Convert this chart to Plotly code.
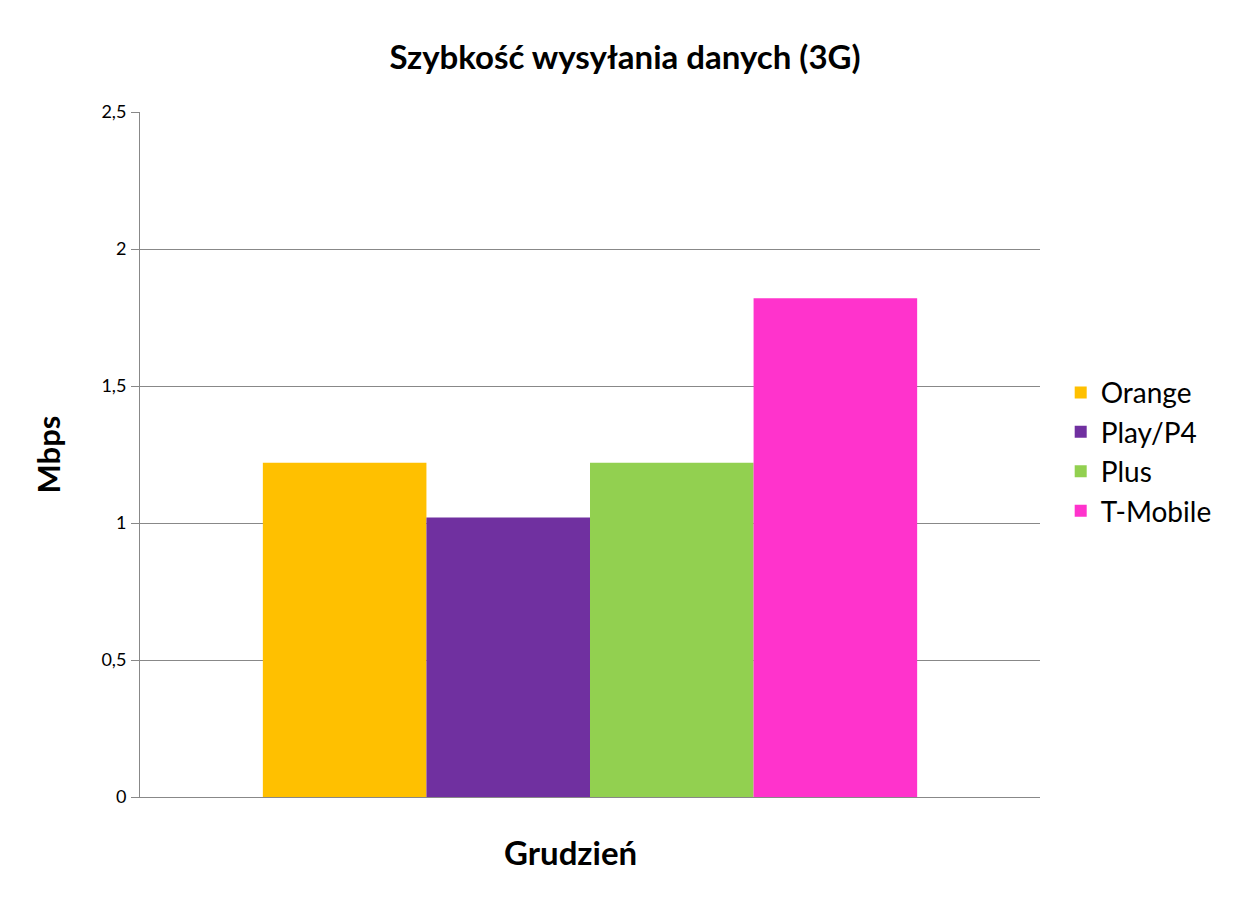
import plotly.graph_objects as go

categories = ["Grudzień"]
operators = ["Orange", "Play/P4", "Plus", "T-Mobile"]
values = [1.22, 1.02, 1.22, 1.82]
colors = ["#FFC000", "#7030A0", "#92D050", "#FF33CC"]

FONT = "Lato, Carlito, 'Liberation Sans', sans-serif"

fig = go.Figure()
for name, v, c in zip(operators, values, colors):
    fig.add_trace(go.Bar(name=name, x=categories, y=[v], marker=dict(color=c, line=dict(width=0))))

fig.update_layout(
    width=1234, height=899,
    margin=dict(l=132, r=202, t=104, b=110),
    paper_bgcolor="white", plot_bgcolor="white",
    separators=",.",
    barmode="group", bargap=0.273, bargroupgap=0,
    font=dict(family=FONT, color="black"),
    title=dict(text="<b>Szybkość wysyłania danych (3G)</b>", x=0.5, xanchor="center",
               y=0.9455, yanchor="middle", font=dict(size=33, color="black")),
    legend=dict(x=1.023, xanchor="left", y=0.504, yanchor="middle",
                font=dict(size=28, color="black"), itemwidth=30, tracegroupgap=0,
                bgcolor="rgba(0,0,0,0)"),
    xaxis=dict(showticklabels=False, showline=True, linecolor="#888888", linewidth=1,
               ticks=""),
    yaxis=dict(range=[0, 2.5], dtick=0.5, showgrid=True, gridcolor="#888888", gridwidth=1,
               showline=True, linecolor="#888888", linewidth=1, ticks="outside", ticklen=8,
               tickcolor="#888888", tickfont=dict(size=18, color="black"),
               ticklabelstandoff=1,
               title=dict(text="<b>Mbps</b>", font=dict(size=31), standoff=31),
               zeroline=False),
    annotations=[dict(text="<b>" + categories[0] + "</b>", xref="paper", yref="paper",
                      x=0.478, y=-0.0803, xanchor="center", yanchor="middle",
                      showarrow=False, font=dict(size=33, color="black"))],
)

fig.write_html("out.html")
